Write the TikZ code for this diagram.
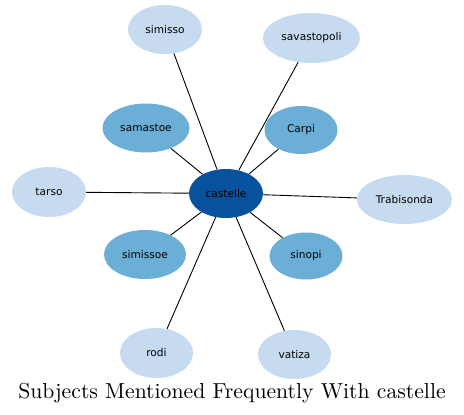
\documentclass[tikz,border=0pt]{standalone}
\usepackage{fontspec}
\newfontfamily\nodefont{DejaVu Sans}
\newfontfamily\titlefont{lmroman10-regular}[Extension=.otf]
\usetikzlibrary{shapes.geometric}
\definecolor{cdark}{HTML}{08519C}
\definecolor{cmid}{HTML}{6BAED6}
\definecolor{clight}{HTML}{C6DBEF}
\tikzset{
  bub/.style={ellipse, draw=none, inner sep=0pt, minimum height=49pt,
    font=\nodefont\fontsize{10.6}{12}\selectfont, text=black},
  hub/.style={bub, fill=cdark},
  midb/.style={bub, fill=cmid},
  lightb/.style={bub, fill=clight},
  link/.style={draw=black, line width=0.9pt}
}
\begin{document}
\begin{tikzpicture}[x=1pt,y=-1pt]
\useasboundingbox[fill=white] (0,0) rectangle (464,415);
\node[hub, minimum width=74pt] (c) at (226,193.5) {castelle};
\node[lightb, minimum width=74pt] (simisso) at (165,29.5) {simisso};
\node[lightb, minimum width=97pt, minimum height=50pt] (sava) at (311.5,38) {savastopoli};
\node[midb, minimum width=87pt] (sama) at (146,128) {samastoe};
\node[midb, minimum width=73pt, minimum height=48pt] (carpi) at (301,130) {Carpi};
\node[lightb, minimum width=74pt, minimum height=50pt] (tarso) at (49,192) {tarso};
\node[lightb, minimum width=95pt] (trab) at (404.5,199.5) {Trabisonda};
\node[midb, minimum width=82pt] (simissoe) at (145,254.5) {simissoe};
\node[midb, minimum width=73pt, minimum height=47pt] (sinopi) at (306,256) {sinopi};
\node[lightb, minimum width=73pt, minimum height=50pt] (rodi) at (156.5,353) {rodi};
\node[lightb, minimum width=73pt] (vatiza) at (294.5,354.5) {vatiza};
\foreach \n in {simisso,sava,sama,carpi,tarso,trab,simissoe,sinopi,rodi,vatiza}
  \draw[link] (c) -- (\n);
\node[font=\titlefont\fontsize{21.7}{26}\selectfont, inner sep=0pt] (title) at (232,393) {Subjects Mentioned Frequently With castelle};
\end{tikzpicture}
\end{document}
